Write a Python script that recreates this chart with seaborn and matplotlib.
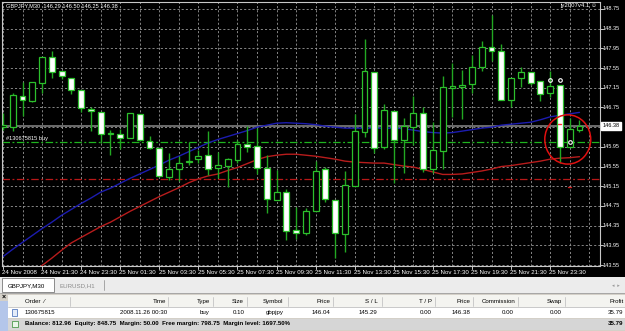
import numpy as np
import pandas as pd
import matplotlib
matplotlib.use("Agg")
import matplotlib.pyplot as plt
import seaborn as sns
from matplotlib.patches import Rectangle, Ellipse

sns.set_theme(style="dark")
plt.rcParams['font.family'] = ['Liberation Sans', 'DejaVu Sans']

# ---------------- data (GBPJPY M30, bars from 24 Nov 19:30) ----------------
opens = [146.36, 146.36, 146.98, 146.88, 147.24, 147.78, 147.49, 147.35, 147.10, 146.71,
         146.66, 146.21, 146.22, 146.12, 146.62, 146.07, 145.92, 145.34, 145.51, 145.64,
         145.70, 145.78, 145.52, 145.57, 145.68, 146.01, 145.96, 145.53, 144.88, 145.04,
         144.26, 144.21, 144.65, 145.49, 144.88, 144.19, 145.16, 146.25, 147.47, 145.95,
         146.68, 146.08, 146.36, 146.63, 145.50, 145.87, 147.15, 147.16, 147.23, 147.58,
         147.98, 147.90, 146.90, 147.34, 147.47, 147.29, 147.04, 147.20, 145.95, 146.29]
highs = [146.63, 147.05, 147.27, 147.27, 147.78, 147.90, 147.49, 147.35, 147.10, 146.75,
         146.66, 146.29, 146.31, 146.63, 146.62, 146.18, 145.92, 145.82, 145.77, 146.04,
         145.89, 146.27, 145.85, 145.72, 146.09, 146.37, 146.33, 145.78, 145.48, 145.09,
         144.73, 144.70, 145.67, 145.55, 144.88, 145.45, 146.61, 148.15, 147.47, 146.82,
         146.68, 146.53, 146.98, 146.75, 146.45, 147.39, 147.65, 147.51, 147.82, 148.10,
         148.63, 148.04, 147.34, 147.58, 147.47, 147.29, 147.50, 147.20, 146.53, 146.50]
lows = [146.30, 146.28, 146.58, 146.86, 147.04, 147.34, 147.32, 147.02, 146.66, 146.28,
        146.02, 145.78, 145.91, 146.12, 146.08, 145.90, 145.34, 145.28, 145.26, 145.58,
        145.62, 145.38, 145.31, 145.14, 145.62, 145.85, 145.40, 144.61, 144.88, 144.06,
        144.07, 144.16, 144.65, 144.84, 143.69, 143.81, 145.16, 146.16, 145.83, 145.90,
        145.21, 145.41, 145.99, 145.43, 145.41, 145.49, 146.56, 146.51, 147.04, 147.50,
        147.70, 146.90, 146.75, 147.16, 147.21, 146.89, 146.96, 145.62, 145.95, 146.25]
closes = [146.40, 147.00, 146.90, 147.26, 147.77, 147.48, 147.38, 147.10, 146.73, 146.67,
          146.21, 146.24, 146.13, 146.63, 146.08, 145.92, 145.36, 145.51, 145.62, 145.67,
          145.77, 145.51, 145.58, 145.70, 146.01, 145.95, 145.53, 144.89, 145.04, 144.24,
          144.21, 144.65, 145.46, 144.90, 144.21, 145.17, 146.27, 147.49, 145.93, 146.70,
          146.09, 146.37, 146.63, 145.51, 145.89, 147.16, 147.18, 147.21, 147.58, 147.98,
          147.89, 146.90, 147.34, 147.48, 147.25, 147.02, 147.19, 145.95, 146.31, 146.38]
ma_blue = [143.72, 143.87, 144.01, 144.15, 144.29, 144.42, 144.56, 144.68, 144.80, 144.91,
           145.03, 145.11, 145.21, 145.31, 145.40, 145.49, 145.58, 145.68, 145.76, 145.85,
           145.94, 146.03, 146.10, 146.16, 146.22, 146.28, 146.35, 146.39, 146.43, 146.44,
           146.43, 146.42, 146.40, 146.37, 146.35, 146.33, 146.33, 146.33, 146.33, 146.33,
           146.33, 146.32, 146.29, 146.26, 146.24, 146.23, 146.24, 146.27, 146.30, 146.33,
           146.35, 146.39, 146.41, 146.43, 146.45, 146.50, 146.56, 146.59, 146.62, 146.65]
ma_red = [np.nan, np.nan, np.nan, 143.39, 143.54, 143.69, 143.85, 144.00, 144.11, 144.22,
          144.33, 144.42, 144.53, 144.64, 144.74, 144.84, 144.94, 145.03, 145.12, 145.22,
          145.30, 145.36, 145.40, 145.47, 145.53, 145.61, 145.69, 145.75, 145.78, 145.80,
          145.80, 145.78, 145.76, 145.73, 145.70, 145.66, 145.64, 145.63, 145.62, 145.62,
          145.59, 145.56, 145.54, 145.49, 145.44, 145.39, 145.39, 145.40, 145.43, 145.46,
          145.50, 145.55, 145.57, 145.60, 145.63, 145.66, 145.70, 145.72, 145.73, 145.75]
time_labels = ["24 Nov 2008", "24 Nov 21:30", "24 Nov 23:30", "25 Nov 01:30", "25 Nov 03:30",
               "25 Nov 05:30", "25 Nov 07:30", "25 Nov 09:30", "25 Nov 11:30", "25 Nov 13:30",
               "25 Nov 15:30", "25 Nov 17:30", "25 Nov 19:30", "25 Nov 21:30", "25 Nov 23:30"]
label_bars = [0, 4, 8, 12, 16, 20, 24, 28, 32, 36, 40, 44, 48, 52, 56]
price_ticks = [148.75, 148.35, 147.95, 147.55, 147.15, 146.75, 146.35, 145.95,
               145.55, 145.15, 144.75, 144.35, 143.95, 143.55]
bid = 146.38
order_price = 146.04
stop_loss = 145.29
closed_marks = [(56, 147.31), (57, 147.31)]

df = pd.DataFrame({"open": opens, "high": highs, "low": lows, "close": closes,
                   "ma_blue": ma_blue, "ma_red": ma_red})
df["bar"] = np.arange(len(df))

# ---------------- figure ----------------
W, H = 625, 331
fig = plt.figure(figsize=(W / 100, H / 100), dpi=100, facecolor="black")
ax = fig.add_axes([2 / W, (H - 266) / H, 598 / W, 264 / H])
ax.set_facecolor("black")
ax.set_xticks([]); ax.set_yticks([])
for s in ax.spines.values():
    s.set_color("#c8c8c8"); s.set_linewidth(0.8)

grid_kw = dict(color="#9a9a9a", lw=0.6, ls=(0, (2.5, 2.5)), zorder=0)
for p in price_ticks:
    ax.axhline(p, **grid_kw)
for b in range(0, 62, 2):
    ax.axvline(b, **grid_kw)

# bid line, order line, SL line
ax.axhline(bid, color="#8a8a8a", lw=1.1, zorder=1)
ax.axhline(order_price, color="#1fb41f", lw=0.9, ls=(0, (6, 2, 1.5, 2)), zorder=1)
ax.axhline(stop_loss, color="#b81818", lw=0.9, ls=(0, (6, 2, 1.5, 2)), zorder=1)

# moving averages
sns.lineplot(data=df, x="bar", y="ma_blue", ax=ax, color="#1c1cb0", lw=1.0, zorder=2)
sns.lineplot(data=df.dropna(), x="bar", y="ma_red", ax=ax, color="#b81c1c", lw=1.0, zorder=2)
ax.set_xlabel(""); ax.set_ylabel("")
ax.set_xticks([]); ax.set_yticks([])

# candles
green = "#2cc02c"
wick = "#22a822"
bull = df["close"] >= df["open"]
ax.vlines(df["bar"], df["low"], df["high"], color=wick, lw=1.0, zorder=3)
bottoms = np.minimum(df["open"], df["close"])
heights = np.maximum(np.abs(df["close"] - df["open"]), 0.02)
ax.bar(df["bar"][bull], heights[bull], bottom=bottoms[bull], width=0.6,
       color="black", edgecolor=green, linewidth=0.9, zorder=4)
ax.bar(df["bar"][~bull], heights[~bull], bottom=bottoms[~bull], width=0.6,
       color="white", edgecolor=green, linewidth=0.9, zorder=4)
ax.set_xlim(-0.1, 61.1)
ax.set_ylim(143.530, 148.892)

# trade markers
for b, p in closed_marks:
    ax.plot(b, p, marker="o", ms=2.6, mfc="none", mec="white", mew=0.8, zorder=6)
ax.plot(58, order_price, marker="o", ms=2.6, mfc="none", mec="white", mew=0.8, zorder=6)
ax.plot([56.85, 57.15], [146.41, 146.41], color="#ff3030", lw=1, zorder=6)
ax.plot([57.85, 58.15], [145.14, 145.14], color="#d02020", lw=1, zorder=6)

# hand drawn circle
ax.add_patch(Ellipse((57.8, 146.10), 4.7, 1.0, fill=False, ec="#e01010", lw=1.1, zorder=7))

# chart texts
ax.text(0.0067, 0.985, "GBPJPY,M30  146.29 146.50 146.25 146.38", transform=ax.transAxes,
        color="white", fontsize=4.1, va="center", ha="left")
ax.text(0.995, 0.985, "jy2007v4.1 ☺", transform=ax.transAxes,
        color="white", fontsize=4.3, va="center", ha="right")
ax.text(0.0067, 146.115, "#130675815 buy", transform=ax.get_yaxis_transform(),
        color="white", fontsize=4.1, va="center", ha="left")

# right price axis
yt = ax.get_yaxis_transform()
for p in price_ticks:
    if abs(p - bid) < 0.08:
        continue
    ax.text(1.005, p, f"{p:.2f}", transform=yt, color="white", fontsize=4.0,
            va="center", ha="left", clip_on=False)
    ax.plot([1.0, 1.005], [p, p], transform=yt, color="#c8c8c8", lw=0.7, clip_on=False)
ax.text(1.004, bid, f"{bid:.2f}", transform=yt, color="black", fontsize=4.0,
        va="center", ha="left", clip_on=False,
        bbox=dict(boxstyle="square,pad=0.25", fc="white", ec="white"))

# time axis
xt = ax.get_xaxis_transform()
for b, lab in zip(label_bars, time_labels):
    ax.text(b - 0.08, -0.025, lab, transform=xt, color="white", fontsize=4.4,
            va="center", ha="left", clip_on=False)
    ax.plot([b, b], [0, -0.012], transform=xt, color="#c8c8c8", lw=0.7, clip_on=False)

# ---------------- terminal panel (pixel coordinates) ----------------
ov = fig.add_axes([0, 0, 1, 1], zorder=10)
ov.set_xlim(0, W); ov.set_ylim(H, 0); ov.axis("off")
ov.patch.set_alpha(0)

ov.add_patch(Rectangle((0, 277), W, H - 277, fc="#d4d0c8", ec="none"))
ov.add_patch(Rectangle((0, 277), W, 16, fc="#ececec", ec="none"))
ov.add_patch(Rectangle((2, 278), 52, 14, fc="white", ec="#7a7a7a", lw=0.6))
fs = 4.4
ov.text(8, 285.3, "GBPJPY,M30", fontsize=fs, color="black", va="center", ha="left")
ov.text(60, 285.3, "EURUSD,H1", fontsize=fs, color="#8a8a8a", va="center", ha="left")
ov.plot([104, 104], [280, 290], color="#9a9a9a", lw=0.6)
ov.text(616, 285.3, "◂  ▸", fontsize=3.6, color="#9a9a9a", va="center", ha="center")
ov.plot([0, W], [293, 293], color="#a0a0a0", lw=0.6)

# left strip
ov.add_patch(Rectangle((0, 293), 8, 38, fc="#d4d0c8", ec="none"))
ov.add_patch(Rectangle((0, 301), 8, 30, fc="#b4c6ea", ec="none"))
ov.text(4, 297.3, "×", fontsize=5, color="black", fontweight="bold", va="center", ha="center")

# header row
ov.add_patch(Rectangle((8, 295), W - 8, 11.5, fc="#f4f4f0", ec="none"))
ov.plot([8, W], [306.5, 306.5], color="#c0c0c0", lw=0.6)
for sx in [70, 168, 213, 247, 288, 333, 382, 435, 473, 518, 565]:
    ov.plot([sx, sx], [296.5, 305.5], color="#c4c4c4", lw=0.6)

hy, dy, by = 301.6, 312.7, 323.8
headers = [("Order  ⁄", 25, "left"), ("Time", 166.7, "right"), ("Type", 210, "right"),
           ("Size", 243.3, "right"), ("Symbol", 283.3, "right"), ("Price", 330.7, "right"),
           ("S / L", 377.3, "right"), ("T / P", 431.7, "right"), ("Price", 470, "right"),
           ("Commission", 515, "right"), ("Swap", 561.7, "right"), ("Profit", 623.3, "right")]
for t, x, a in headers:
    ov.text(x, hy, t, fontsize=fs, color="black", va="center", ha=a)

# data row
ov.add_patch(Rectangle((8, 307), W - 8, 11, fc="white", ec="none"))
ov.add_patch(Rectangle((12, 309), 5, 7, fc="#e4ecfa", ec="#3a64b4", lw=0.5))
row = [("130675815", 25, "left"), ("2008.11.26 00:30", 166.7, "right"), ("buy", 210, "right"),
       ("0.10", 245, "right"), ("gbpjpy", 283.3, "right"), ("146.04", 330.7, "right"),
       ("145.29", 377.3, "right"), ("0.00", 431.7, "right"), ("146.38", 470, "right"),
       ("0.00", 513.3, "right"), ("0.00", 561.7, "right"), ("35.79", 623.3, "right")]
for t, x, a in row:
    ov.text(x, dy, t, fontsize=fs, color="black", va="center", ha=a)

# balance row
ov.add_patch(Rectangle((8, 318.5), W - 8, 11, fc="#d6d6d6", ec="none"))
ov.add_patch(Rectangle((11.5, 320.5), 6, 6, fc="#e8f6e8", ec="#2f8a2f", lw=0.5))
ov.text(25, by, "Balance: 812.96  Equity: 848.75  Margin: 50.00  Free margin: 798.75  "
        "Margin level: 1697.50%", fontsize=fs, color="black", fontweight="bold",
        va="center", ha="left")
ov.text(623.3, by, "35.79", fontsize=fs, color="black", fontweight="bold",
        va="center", ha="right")

fig.savefig("out.png", dpi=100, facecolor="black")
